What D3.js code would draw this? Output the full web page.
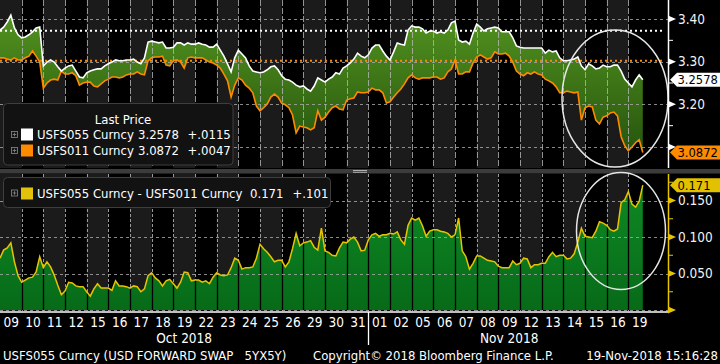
<!DOCTYPE html>
<html><head><meta charset="utf-8">
<script src="https://cdn.jsdelivr.net/npm/d3@7"></script>
<style>
html,body{margin:0;padding:0;background:#000;}
svg{display:block;}
text{font-family:"DejaVu Sans Condensed","DejaVu Sans",sans-serif;}
</style></head><body>
<svg id="chart" width="720" height="364"></svg>
<script>
// ---------------- DATA ----------------
const days = ['09','10','11','12','15','16','17','18','19','22','23','24','25','26','29','30','31',
              '01','02','05','06','07','08','09','12','13','14','15','16','19'];
const monthLabels = ['Oct 2018','Nov 2018'];
const monthStartIdx = [0, 17];
const samplesPerDay = 6;

// USFS055 Curncy (5Y5Y), intraday samples
const usfs055 = [
3.374,3.381,3.393,3.409,3.379,3.363,3.356,3.358,3.363,3.370,3.379,3.381,
3.290,3.299,3.304,3.299,3.288,3.278,3.285,3.290,3.292,3.278,3.264,3.262,
3.274,3.278,3.281,3.283,3.283,3.290,3.295,3.299,3.304,3.302,3.302,3.304,
3.304,3.306,3.299,3.295,3.309,3.346,3.348,3.346,3.344,3.346,3.332,3.332,
3.334,3.344,3.344,3.339,3.344,3.341,3.341,3.344,3.341,3.339,3.334,3.334,
3.341,3.327,3.313,3.295,3.276,3.309,3.327,3.318,3.309,3.290,3.278,3.276,
3.274,3.276,3.281,3.288,3.290,3.281,3.267,3.259,3.257,3.252,3.245,3.241,
3.243,3.236,3.231,3.243,3.262,3.257,3.252,3.259,3.264,3.274,3.271,3.285,
3.290,3.297,3.306,3.320,3.313,3.309,3.316,3.332,3.339,3.339,3.325,3.313,
3.304,3.323,3.344,3.341,3.339,3.374,3.384,3.381,3.381,3.377,3.367,3.372,
3.372,3.367,3.370,3.367,3.374,3.391,3.395,3.351,3.346,3.348,3.341,3.367,
3.388,3.381,3.372,3.377,3.379,3.381,3.379,3.370,3.370,3.370,3.356,3.337,
3.334,3.332,3.332,3.332,3.332,3.332,3.332,3.320,3.327,3.323,3.325,3.309,
3.302,3.302,3.304,3.306,3.311,3.290,3.281,3.295,3.290,3.283,3.285,3.292,
3.288,3.288,3.292,3.292,3.278,3.259,3.250,3.241,3.257,3.269,3.2578];

// USFS011 Curncy, intraday samples
const usfs011 = [
3.309,3.309,3.306,3.304,3.309,3.304,3.304,3.309,3.313,3.325,3.313,3.299,
3.238,3.250,3.257,3.259,3.257,3.278,3.271,3.271,3.274,3.267,3.245,3.250,
3.252,3.252,3.243,3.241,3.248,3.255,3.259,3.264,3.264,3.262,3.264,3.269,
3.271,3.271,3.276,3.271,3.269,3.302,3.309,3.311,3.311,3.313,3.292,3.290,
3.302,3.304,3.299,3.285,3.309,3.311,3.309,3.309,3.309,3.304,3.299,3.297,
3.292,3.285,3.271,3.255,3.217,3.245,3.262,3.257,3.245,3.238,3.227,3.196,
3.185,3.192,3.201,3.217,3.224,3.217,3.203,3.199,3.192,3.175,3.133,3.149,
3.147,3.145,3.140,3.145,3.185,3.163,3.170,3.182,3.192,3.196,3.189,3.187,
3.210,3.213,3.215,3.229,3.227,3.227,3.229,3.238,3.234,3.234,3.227,3.203,
3.206,3.217,3.227,3.236,3.248,3.262,3.269,3.262,3.259,3.262,3.262,3.262,
3.264,3.264,3.259,3.262,3.276,3.283,3.304,3.271,3.271,3.276,3.276,3.297,
3.311,3.316,3.311,3.306,3.309,3.323,3.318,3.318,3.320,3.313,3.299,3.278,
3.271,3.267,3.274,3.271,3.276,3.271,3.269,3.259,3.255,3.250,3.241,3.227,
3.227,3.231,3.229,3.227,3.229,3.163,3.192,3.196,3.194,3.163,3.154,3.170,
3.173,3.180,3.182,3.173,3.124,3.103,3.091,3.100,3.110,3.117,3.0872];

// USFS055 Curncy - USFS011 Curncy
const spread = [
0.071,0.082,0.085,0.092,0.066,0.047,0.038,0.041,0.044,0.045,0.052,0.073,
0.058,0.066,0.059,0.048,0.034,0.021,0.026,0.038,0.037,0.033,0.032,0.032,
0.025,0.019,0.029,0.036,0.030,0.030,0.030,0.027,0.040,0.033,0.033,0.032,
0.030,0.033,0.032,0.025,0.029,0.047,0.051,0.044,0.040,0.033,0.040,0.042,
0.036,0.030,0.038,0.052,0.051,0.040,0.041,0.041,0.038,0.040,0.036,0.045,
0.051,0.048,0.047,0.048,0.058,0.071,0.068,0.056,0.058,0.058,0.059,0.071,
0.090,0.084,0.079,0.073,0.066,0.068,0.068,0.059,0.066,0.084,0.105,0.088,
0.092,0.093,0.095,0.086,0.082,0.112,0.081,0.079,0.075,0.074,0.085,0.093,
0.092,0.097,0.100,0.093,0.081,0.082,0.096,0.103,0.105,0.101,0.103,0.103,
0.105,0.104,0.107,0.096,0.090,0.116,0.126,0.123,0.126,0.115,0.101,0.108,
0.110,0.110,0.108,0.107,0.105,0.100,0.103,0.126,0.081,0.073,0.056,0.064,
0.074,0.074,0.071,0.068,0.067,0.066,0.060,0.058,0.058,0.058,0.067,0.062,
0.064,0.071,0.070,0.058,0.062,0.062,0.064,0.064,0.073,0.079,0.073,0.075,
0.075,0.070,0.071,0.077,0.093,0.112,0.101,0.100,0.099,0.108,0.121,0.119,
0.116,0.110,0.108,0.111,0.147,0.151,0.162,0.145,0.141,0.149,0.171];

const topTicks = [3.10, 3.20, 3.30, 3.40];
const topLabelTicks = [3.20, 3.30, 3.40];
const topMinorTicks = [3.15, 3.25, 3.35];
const botTicks = [0, 0.05, 0.10, 0.15];
const botLabelTicks = [0.05, 0.10, 0.15];
const botMinorTicks = [0.025, 0.075, 0.125, 0.175];
const refLevels = [3.3726, 3.302];           // dotted reference levels (white, orange)

const legendTitle = 'Last Price';
const seriesNames = ['USFS055 Curncy', 'USFS011 Curncy'];
const lastValues = ['3.2578', '3.0872'];
const changes = ['+.0115', '+.0047'];
const spreadName = 'USFS055 Curncy - USFS011 Curncy';
const spreadLast = '0.171';
const spreadChange = '+.101';
const footLeft = 'USFS055 Curncy (USD FORWARD SWAP   5YX5Y)';
const footMid = 'Copyright\u00A9 2018 Bloomberg Finance L.P.';
const footRight = '19-Nov-2018 15:16:28';

// ---------------- DRAW ----------------
const W = 720, H = 364;
const plotR = 668;
const FS = 13;
const svg = d3.select('#chart');
const idx = d3.range(usfs055.length);
const tOf = i => i / samplesPerDay;

const x = d3.scaleLinear().domain([0, 30.83]).range([0, plotR]);
const yTop = d3.scaleLinear().domain([3.1, 3.4]).range([147, 19]);
const yBot = d3.scaleLinear().domain([0, 0.15]).range([310, 200.5]);
const TOPP = [0, 168], BOTP = [174, 311];

const defs = svg.append('defs');
const g1 = defs.append('linearGradient').attr('id','gTop').attr('gradientUnits','userSpaceOnUse')
  .attr('x1',0).attr('x2',0).attr('y1',15).attr('y2',160);
g1.append('stop').attr('offset',0).attr('stop-color','#52921f');
g1.append('stop').attr('offset',1).attr('stop-color','#24520d');
const g2 = defs.append('linearGradient').attr('id','gBot').attr('gradientUnits','userSpaceOnUse')
  .attr('x1',0).attr('x2',0).attr('y1',180).attr('y2',311);
g2.append('stop').attr('offset',0).attr('stop-color','#0f8a25');
g2.append('stop').attr('offset',1).attr('stop-color','#076a18');
defs.append('clipPath').attr('id','cTop').append('rect').attr('x',0).attr('y',TOPP[0]).attr('width',plotR).attr('height',TOPP[1]-TOPP[0]);
defs.append('clipPath').attr('id','cBot').append('rect').attr('x',0).attr('y',BOTP[0]).attr('width',plotR).attr('height',BOTP[1]-BOTP[0]);

svg.append('rect').attr('width',W).attr('height',H).attr('fill','#000');

// day bands
const dayIdx = d3.range(days.length);
[TOPP, BOTP].forEach(p => {
  svg.append('g').selectAll('rect').data(dayIdx.filter(d => d % 2 === 0)).join('rect')
    .attr('x', d => x(d)).attr('width', d => x(d+1) - x(d))
    .attr('y', p[0]).attr('height', p[1]-p[0]).attr('fill', '#1b1b1b');
});

// ---- top panel ----
const topG = svg.append('g').attr('clip-path','url(#cTop)');
const areaTop = d3.area().x(i => x(tOf(i))).y0(i => yTop(usfs011[i])).y1(i => yTop(usfs055[i]));
topG.append('path').datum(idx).attr('d', areaTop).attr('fill','url(#gTop)');
topG.append('g').selectAll('line').data(d3.range(1, days.length)).join('line')
  .attr('x1', d => Math.round(x(d))+0.5).attr('x2', d => Math.round(x(d))+0.5)
  .attr('y1', TOPP[0]).attr('y2', TOPP[1])
  .attr('stroke','rgba(180,180,180,0.8)').attr('stroke-dasharray','6,2');
topG.append('g').selectAll('line').data(topTicks).join('line')
  .attr('x1',0).attr('x2',plotR).attr('y1', d => Math.round(yTop(d))+0.5).attr('y2', d => Math.round(yTop(d))+0.5)
  .attr('stroke','rgba(170,170,170,0.8)').attr('stroke-dasharray','3,3');
const refColors = ['#ffffff', '#ff8a00'];
topG.append('g').selectAll('line').data(refLevels).join('line')
  .attr('x1',0).attr('x2',664).attr('y1', d => yTop(d)).attr('y2', d => yTop(d))
  .attr('stroke', (d,i) => refColors[i]).attr('stroke-width',2).attr('stroke-dasharray','2,3');
const lineTop = arr => d3.line().x(i => x(tOf(i))).y(i => yTop(arr[i]));
topG.append('path').datum(idx).attr('d', lineTop(usfs011)).attr('fill','none').attr('stroke','#ff8a00').attr('stroke-width',1.6);
topG.append('path').datum(idx).attr('d', lineTop(usfs055)).attr('fill','none').attr('stroke','#ffffff').attr('stroke-width',1.6);

// ---- bottom panel ----
const botG = svg.append('g').attr('clip-path','url(#cBot)');
botG.append('g').selectAll('line').data(d3.range(1, days.length)).join('line')
  .attr('x1', d => Math.round(x(d))+0.5).attr('x2', d => Math.round(x(d))+0.5)
  .attr('y1', BOTP[0]).attr('y2', BOTP[1])
  .attr('stroke','#9a9a9a').attr('stroke-dasharray','3,2');
const areaBot = d3.area().x(i => x(tOf(i))).y0(yBot(0)).y1(i => yBot(spread[i]));
defs.append('clipPath').attr('id','cArea').append('path').datum(idx).attr('d', areaBot);
botG.append('path').datum(idx).attr('d', areaBot).attr('fill','url(#gBot)');
botG.append('g').attr('clip-path','url(#cArea)').selectAll('line').data(d3.range(1, days.length)).join('line')
  .attr('x1', d => Math.round(x(d))+0.5).attr('x2', d => Math.round(x(d))+0.5)
  .attr('y1', BOTP[0]).attr('y2', BOTP[1]).attr('stroke','#000').attr('stroke-width',1.3);
botG.append('g').selectAll('line').data(botTicks).join('line')
  .attr('x1',0).attr('x2',plotR).attr('y1', d => Math.round(yBot(d))+0.5).attr('y2', d => Math.round(yBot(d))+0.5)
  .attr('stroke','rgba(170,170,170,0.8)').attr('stroke-dasharray','3,3');
botG.append('path').datum(idx).attr('d', d3.line().x(i => x(tOf(i))).y(i => yBot(spread[i])))
  .attr('fill','none').attr('stroke','#e8c400').attr('stroke-width',1.5);

// separator
svg.append('rect').attr('x',0).attr('y',169).attr('width',W).attr('height',4.5).attr('fill','#3c3c3c');
svg.append('line').attr('x1',353).attr('x2',367).attr('y1',170.5).attr('y2',170.5).attr('stroke','#b0b0b0');
svg.append('line').attr('x1',353).attr('x2',367).attr('y1',172.3).attr('y2',172.3).attr('stroke','#b0b0b0');

// ellipses
svg.append('ellipse').attr('cx',615).attr('cy',98.5).attr('rx',53).attr('ry',68.5)
  .attr('fill','none').attr('stroke','#e6e6e6').attr('stroke-width',1.5);
svg.append('ellipse').attr('cx',621).attr('cy',231).attr('rx',44.5).attr('ry',58.5)
  .attr('fill','none').attr('stroke','#e6e6e6').attr('stroke-width',1.5);

// ---- legends ----
function plusIcon(g, cx, cy) {
  g.append('rect').attr('x',cx-3).attr('y',cy-3).attr('width',6).attr('height',6)
    .attr('fill','none').attr('stroke','#8a8a8a').attr('stroke-width',0.8);
  g.append('path').attr('d',`M${cx-1.8},${cy}H${cx+1.8}M${cx},${cy-1.8}V${cy+1.8}`).attr('stroke','#8a8a8a').attr('stroke-width',0.8);
}
const lg = svg.append('g');
lg.append('rect').attr('x',3.5).attr('y',103.5).attr('width',229.5).attr('height',61.5).attr('rx',4)
  .attr('fill','#121212').attr('stroke','#3e3e3e');
lg.append('text').attr('x',123).attr('y',123.5).attr('text-anchor','middle').attr('fill','#fff')
  .attr('font-size',FS).text(legendTitle);
const swatch = ['#ffffff', '#ff8a00'];
seriesNames.forEach((s, k) => {
  const cy = 134.5 + k*16;
  plusIcon(lg, 14.5, cy);
  lg.append('rect').attr('x',21).attr('y',cy-6).attr('width',12).attr('height',12).attr('fill',swatch[k]);
  lg.append('text').attr('x',37).attr('y',cy+4.7).attr('fill','#fff').attr('font-size',FS).text(s);
  lg.append('text').attr('x',138).attr('y',cy+4.7).attr('fill','#fff').attr('font-size',FS).text(lastValues[k]);
  lg.append('text').attr('x',187.5).attr('y',cy+4.7).attr('fill','#fff').attr('font-size',FS).text(changes[k]);
});
const lg2 = svg.append('g');
lg2.append('rect').attr('x',3.5).attr('y',177.5).attr('width',327).attr('height',30).attr('rx',4)
  .attr('fill','#121212').attr('stroke','#3e3e3e');
plusIcon(lg2, 14.5, 193);
lg2.append('rect').attr('x',21).attr('y',187.5).attr('width',12).attr('height',12).attr('fill','#e3c20c');
lg2.append('text').attr('x',37).attr('y',198).attr('fill','#fff').attr('font-size',FS).text(spreadName);
lg2.append('text').attr('x',250).attr('y',198).attr('fill','#fff').attr('font-size',FS).text(spreadLast);
lg2.append('text').attr('x',292.5).attr('y',198).attr('fill','#fff').attr('font-size',FS).text(spreadChange);

// ---- right axes ----
function rightAxis(scale, rng, labels, majors, minors, color, fmt) {
  const g = svg.append('g');
  g.append('line').attr('x1',plotR+0.5).attr('x2',plotR+0.5).attr('y1',rng[0]).attr('y2',rng[1]).attr('stroke',color).attr('stroke-width',1.5);
  g.selectAll('path.tri').data(majors).join('path').attr('class','tri')
    .attr('d', d => { const y = scale(d); return `M${plotR},${y-3.5}L${plotR+8},${y}L${plotR},${y+3.5}Z`; })
    .attr('fill', color);
  g.selectAll('line.mn').data(minors).join('line').attr('class','mn')
    .attr('x1',plotR).attr('x2',plotR+5).attr('y1', d => scale(d)).attr('y2', d => scale(d)).attr('stroke',color);
  const ax = d3.axisRight(scale).tickValues(labels).tickSize(0).tickPadding(10).tickFormat(d3.format(fmt));
  const a = svg.append('g').attr('transform',`translate(${plotR},0)`).call(ax);
  a.select('.domain').remove();
  a.selectAll('text').attr('fill','#f2f2f2').attr('font-size',13.5)
    .attr('font-family','"DejaVu Sans Condensed","DejaVu Sans",sans-serif');
}
rightAxis(yTop, [0,168], topLabelTicks, topTicks, topMinorTicks, '#ffffff', '.2f');
rightAxis(yBot, [174,312], botLabelTicks, botTicks, botMinorTicks, '#e8c400', '.3f');

function tag(yc, txt, fill) {
  svg.append('path').attr('d',`M670,${yc}L677,${yc-7}H720V${yc+7}H677Z`).attr('fill',fill);
  svg.append('text').attr('x',677.5).attr('y',yc+4.7).attr('fill','#000').attr('font-size',12.8).text(txt);
}
tag(yTop(usfs055[usfs055.length-1]), lastValues[0], '#ffffff');
tag(yTop(usfs011[usfs011.length-1]), lastValues[1], '#ff8a00');
tag(yBot(spread[spread.length-1]), spreadLast, '#e2c200');

// ---- bottom axis ----
svg.append('line').attr('x1',0).attr('x2',plotR).attr('y1',312).attr('y2',312).attr('stroke','#fff').attr('stroke-width',1.5);
const xAx = d3.axisBottom(x).tickValues(dayIdx.map(d => d + 0.5)).tickSize(0).tickPadding(0)
  .tickFormat(d => days[Math.floor(d)]);
const xa = svg.append('g').attr('transform','translate(0,317.5)').call(xAx);
xa.select('.domain').remove();
xa.selectAll('text').attr('fill','#fff').attr('font-size',13.5).attr('dy','0.71em')
  .attr('font-family','"DejaVu Sans Condensed","DejaVu Sans",sans-serif');
svg.append('line').attr('x1', Math.round(x(monthStartIdx[1]))+0.5).attr('x2', Math.round(x(monthStartIdx[1]))+0.5)
  .attr('y1',312).attr('y2',345).attr('stroke','#fff').attr('stroke-width',1.3);
monthLabels.forEach((m, k) => {
  const a = monthStartIdx[k], b = k+1 < monthStartIdx.length ? monthStartIdx[k+1] : days.length;
  svg.append('text').attr('x', x((a + b) / 2)).attr('y', 342.5).attr('text-anchor','middle')
    .attr('fill','#fff').attr('font-size',13.5).text(m);
});

// footer
svg.append('text').attr('x',3).attr('y',359.5).attr('fill','#fff').attr('font-size',FS).attr('xml:space','preserve')
  .style('white-space','pre').text(footLeft);
svg.append('text').attr('x',313).attr('y',359.5).attr('fill','#fff').attr('font-size',FS).text(footMid);
svg.append('text').attr('x',718).attr('y',359.5).attr('text-anchor','end').attr('fill','#fff').attr('font-size',FS).text(footRight);
</script>
</body></html>
